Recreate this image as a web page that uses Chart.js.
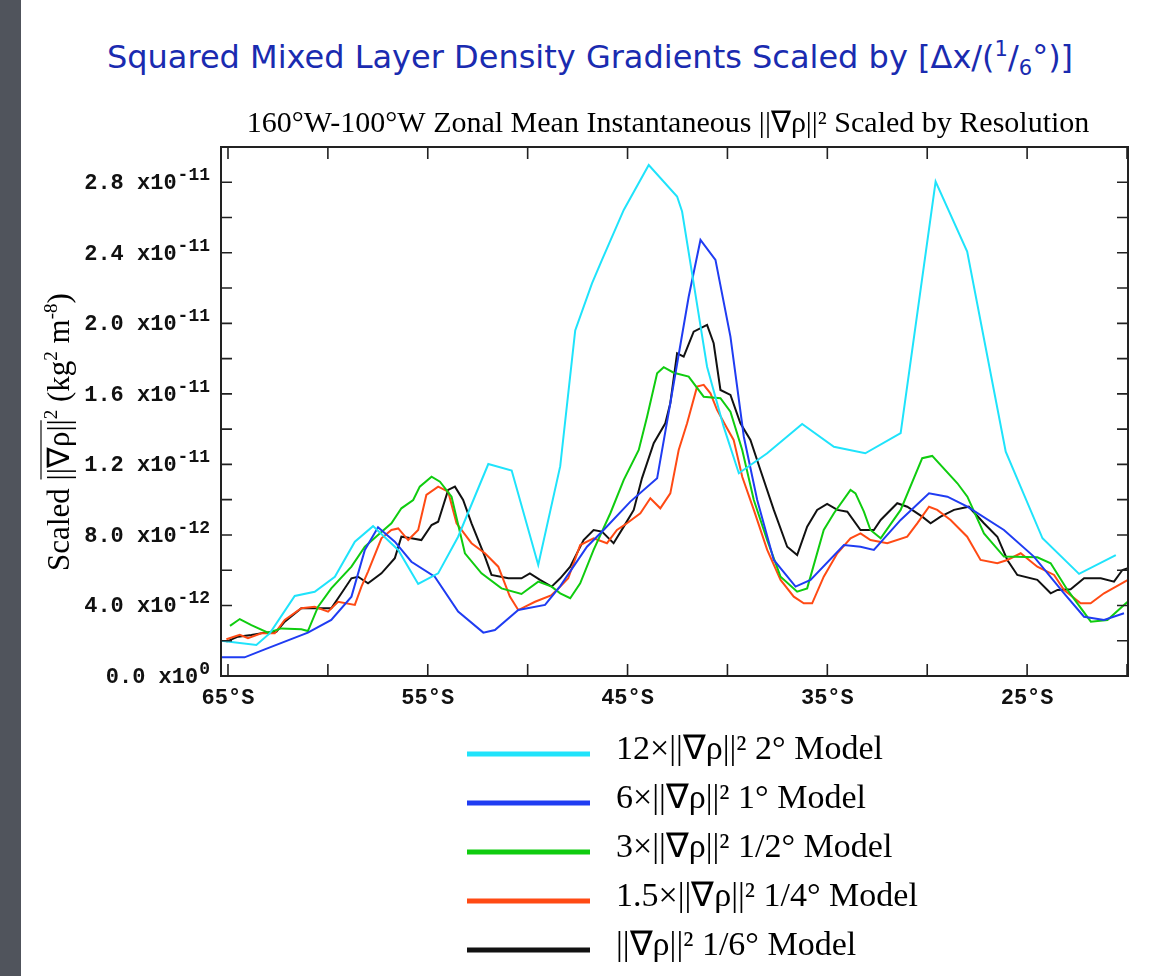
<!DOCTYPE html>
<html lang="en">
<head>
<meta charset="UTF-8">
<title>Squared Mixed Layer Density Gradients</title>
<script src="https://cdn.jsdelivr.net/npm/chart.js"></script>
<style>
  html, body { margin: 0; padding: 0; background: #fff; width: 1173px; height: 976px; overflow: hidden; }
  #strip { position: absolute; left: 0; top: 0; width: 21px; height: 976px; background: #50545c; }
  h1 { position: absolute; left: 0; top: 41px; width: 1180px; margin: 0; text-align: center;
       font: normal 32px/32px "DejaVu Sans", sans-serif; color: #1a2bb0; }
  h1 sup, h1 sub { font-size: 21px; line-height: 0; }
  #plot { position: absolute; left: 0; top: 0; }
</style>
</head>
<body>
<div id="strip"></div>
<h1>Squared Mixed Layer Density Gradients Scaled by [Δx/(<sup>1</sup>/<sub>6</sub>°)]</h1>
<canvas id="plot" width="1173" height="976"></canvas>

<script>
// latitude in degrees (negative = south), values in units of 1e-12 kg^2 m^-8

// 12x |grad rho|^2, 2 deg model
var lat2 = [-65.35, -63.58, -62.9, -61.66, -60.66, -59.65, -58.65, -57.74, -56.48, -55.48, -54.48, -53.48,
  -51.97, -50.8, -49.47, -48.37, -47.62, -46.78, -46.28, -45.19, -43.94, -42.52, -42.27, -41.69, -41.02,
  -40.19, -39.43, -38.01, -36.26, -34.67, -33.1, -31.33, -29.58, -28.0, -26.07, -24.23, -22.4, -20.56];
var val2 = [2.0, 1.76, 2.43, 4.54, 4.78, 5.63, 7.62, 8.5, 7.15, 5.22, 5.82, 7.9,
  12.02, 11.65, 6.3, 11.9, 19.6, 22.27, 23.6, 26.43, 28.98, 27.19, 26.34, 22.27, 17.54,
  14.14, 11.5, 12.63, 14.29, 13.0, 12.63, 13.77, 28.04, 24.07, 12.72, 7.81, 5.79, 6.86];

// 6x |grad rho|^2, 1 deg model
var lat1 = [-65.35, -64.17, -63.16, -61.0, -59.83, -58.82, -58.15, -57.49, -56.65, -55.82, -54.65, -53.48,
  -52.22, -51.64, -50.47, -49.13, -48.37, -47.03, -46.2, -44.86, -43.52, -42.86, -41.94, -41.35, -40.6,
  -39.85, -39.18, -38.51, -37.68, -36.59, -35.84, -34.17, -33.34, -32.67, -31.33, -29.91, -28.99, -27.99,
  -26.16, -24.66, -23.15, -22.15, -21.15, -20.15];
var val1 = [1.06, 1.06, 1.51, 2.46, 3.18, 4.5, 7.15, 8.43, 7.62, 6.48, 5.63, 3.65,
  2.46, 2.61, 3.74, 4.03, 5.1, 7.33, 8.28, 9.89, 11.21, 15.47, 21.51, 24.73, 23.6,
  19.25, 13.57, 9.98, 6.58, 5.07, 5.45, 7.43, 7.33, 7.15, 8.85, 10.36, 10.17, 9.6,
  8.28, 6.77, 4.69, 3.36, 3.18, 3.56];

// 3x |grad rho|^2, 1/2 deg model
var latHalf = [-64.9, -64.41, -63.83, -63.0, -62.33, -61.33, -61.0, -60.49, -59.83, -58.82, -58.15, -57.49,
  -56.82, -56.32, -55.73, -55.4, -54.81, -54.39, -53.81, -53.14, -52.31, -51.31, -50.31, -49.47, -48.8,
  -48.37, -47.87, -47.37, -46.7, -45.86, -45.19, -44.44, -44.02, -43.52, -43.19, -42.69, -41.94, -41.19,
  -40.35, -39.85, -39.26, -38.68, -38.01, -37.34, -36.51, -36.01, -35.18, -34.67, -33.84, -33.59, -33.17,
  -32.84, -32.33, -31.33, -30.25, -29.75, -28.49, -27.99, -27.16, -26.16, -24.49, -23.82, -22.98, -21.81,
  -20.98, -20.15, -19.95];
var valHalf = [2.84, 3.23, 2.89, 2.46, 2.7, 2.65, 2.55, 3.93, 4.97, 6.2, 7.33, 8.0,
  8.66, 9.51, 9.98, 10.74, 11.3, 11.02, 10.17, 6.96, 5.82, 4.97, 4.65, 5.35, 5.07,
  4.69, 4.41, 5.26, 7.15, 9.23, 11.12, 12.82, 14.71, 17.17, 17.51, 17.2, 16.98, 15.84,
  15.75, 14.99, 12.82, 9.98, 7.71, 5.63, 4.78, 4.97, 8.28, 9.23, 10.55, 10.36, 9.32,
  8.28, 7.81, 9.42, 12.35, 12.48, 10.93, 10.17, 8.09, 6.77, 6.73, 6.39, 4.88, 3.08,
  3.18, 4.03, 4.22];

// 1.5x |grad rho|^2, 1/4 deg model
var latQuarter = [-65.08, -64.41, -64.0, -63.33, -62.66, -62.16, -61.33, -60.66, -59.99, -59.49, -58.65, -58.32,
  -57.99, -57.32, -56.82, -56.48, -55.98, -55.48, -55.07, -54.48, -53.98, -53.56, -52.81, -52.14, -51.47,
  -50.89, -50.47, -49.63, -48.8, -48.37, -47.97, -47.37, -46.7, -46.03, -45.53, -45.03, -44.36, -43.86,
  -43.36, -42.86, -42.44, -42.02, -41.52, -41.19, -40.85, -40.52, -40.02, -39.69, -39.26, -38.68, -38.01,
  -37.34, -36.68, -36.18, -35.76, -35.18, -34.5, -33.84, -33.34, -32.84, -32.0, -31.0, -30.5, -29.91,
  -29.5, -28.83, -28.0, -27.33, -26.49, -25.99, -25.32, -24.49, -23.65, -23.15, -22.32, -21.82, -21.15,
  -19.95];
var valQuarter = [2.08, 2.33, 2.14, 2.42, 2.42, 3.18, 3.84, 3.93, 3.65, 4.21, 4.03, 5.07,
  5.92, 7.81, 8.28, 8.37, 7.71, 8.28, 10.27, 10.74, 10.45, 8.66, 7.53, 6.96, 6.2,
  4.5, 3.74, 4.21, 4.59, 5.07, 5.54, 7.43, 7.81, 7.53, 8.28, 8.66, 9.23, 10.08,
  9.51, 10.36, 12.82, 14.33, 16.41, 16.51, 16.03, 15.09, 14.05, 13.39, 11.3, 9.42, 7.15,
  5.45, 4.5, 4.12, 4.12, 5.63, 6.96, 7.81, 8.09, 7.71, 7.53, 7.9, 8.66, 9.6,
  9.42, 8.85, 7.9, 6.58, 6.39, 6.58, 6.96, 6.2, 5.73, 4.88, 4.12, 4.12, 4.69,
  5.45];

// |grad rho|^2, 1/6 deg model
var latSixth = [-65.08, -64.5, -63.83, -63.16, -62.58, -62.16, -61.33, -60.66, -59.83, -59.32, -58.82, -58.49,
  -57.99, -57.32, -56.65, -56.32, -55.82, -55.32, -54.81, -54.48, -53.98, -53.64, -53.23, -52.81, -52.14,
  -51.81, -50.97, -50.31, -49.89, -49.38, -48.8, -48.37, -47.87, -47.2, -46.7, -46.28, -45.7, -45.19,
  -44.69, -44.28, -43.69, -43.11, -42.86, -42.52, -42.19, -41.69, -41.02, -40.69, -40.35, -39.85, -39.35,
  -38.85, -38.35, -37.68, -37.01, -36.51, -36.01, -35.51, -35.01, -34.5, -34.0, -33.34, -32.67, -32.33,
  -31.5, -31.0, -30.25, -29.83, -29.33, -28.66, -27.92, -27.16, -26.49, -25.99, -25.49, -24.49, -23.82,
  -23.48, -22.82, -22.15, -21.31, -20.65, -20.23, -19.95];
var valSixth = [1.95, 2.23, 2.33, 2.46, 2.51, 3.08, 3.84, 3.84, 3.84, 4.69, 5.54, 5.63,
  5.26, 5.82, 6.68, 7.9, 7.81, 7.71, 8.56, 8.75, 10.55, 10.74, 9.98, 8.66, 6.77,
  5.73, 5.54, 5.54, 5.82, 5.45, 5.07, 5.54, 6.2, 7.71, 8.28, 8.19, 7.53, 8.47,
  9.42, 11.21, 13.2, 14.33, 15.47, 18.3, 18.11, 19.53, 19.91, 18.87, 16.22, 15.94, 14.33,
  13.39, 11.68, 9.42, 7.33, 6.86, 8.47, 9.42, 9.76, 9.42, 9.32, 8.28, 8.28, 8.85,
  9.8, 9.6, 9.04, 8.66, 9.04, 9.42, 9.6, 8.66, 7.9, 6.58, 5.73, 5.45, 4.69,
  4.88, 4.92, 5.54, 5.54, 5.35, 6.01, 6.11];

var seriesNames = ["12×||∇ρ||² 2° Model", "6×||∇ρ||² 1° Model", "3×||∇ρ||² 1/2° Model",
  "1.5×||∇ρ||² 1/4° Model", "||∇ρ||² 1/6° Model"];
var seriesColors = ["#1fe3fb", "#1f3cf2", "#0fcc0f", "#ff4a14", "#111111"];

// axis ticks
var xTickValues = [-65, -60, -55, -50, -45, -40, -35, -30, -25, -20];
var xLabelValues = [-65, -55, -45, -35, -25];
var xTickLabels = ["65°S", "55°S", "45°S", "35°S", "25°S"];
var yTickValues = [0, 2, 4, 6, 8, 10, 12, 14, 16, 18, 20, 22, 24, 26, 28, 30];
var yLabelValues = [0, 4, 8, 12, 16, 20, 24, 28];
var yLabelMantissa = ["0.0 x10", "4.0 x10", "8.0 x10", "1.2 x10", "1.6 x10", "2.0 x10", "2.4 x10", "2.8 x10"];
var yLabelExponent = ["0", "-12", "-12", "-11", "-11", "-11", "-11", "-11"];

function toPoints(lat, val) {
  return lat.map(function(x, i) { return { x: x, y: val[i] }; });
}

var allLat = [lat2, lat1, latHalf, latQuarter, latSixth];
var allVal = [val2, val1, valHalf, valQuarter, valSixth];

var datasets = seriesNames.map(function(name, i) {
  return {
    label: name,
    data: toPoints(allLat[i], allVal[i]),
    borderColor: seriesColors[i],
    backgroundColor: seriesColors[i],
    borderWidth: 2,
    pointRadius: 0,
    tension: 0,
    fill: false
  };
});

var tickFont = 'bold 22px "Liberation Mono", "Courier New", monospace';
var expFont = 'bold 18px "Liberation Mono", "Courier New", monospace';
var serif = '"Liberation Serif", "Times New Roman", serif';

// frame, inward ticks, labels, titles and legend
var decorPlugin = {
  id: "decor",
  afterDraw: function(chart) {
    var ctx = chart.ctx;
    var a = chart.chartArea;
    var xs = chart.scales.x, ys = chart.scales.y;
    ctx.save();

    // box
    ctx.strokeStyle = "#222";
    ctx.lineWidth = 2;
    ctx.strokeRect(a.left, a.top, a.right - a.left, a.bottom - a.top);

    // ticks on all four sides, pointing inward
    ctx.lineWidth = 1.6;
    ctx.beginPath();
    xTickValues.forEach(function(v) {
      var px = xs.getPixelForValue(v);
      ctx.moveTo(px, a.bottom); ctx.lineTo(px, a.bottom - 12);
      ctx.moveTo(px, a.top); ctx.lineTo(px, a.top + 12);
    });
    yTickValues.forEach(function(v) {
      var py = ys.getPixelForValue(v);
      ctx.moveTo(a.left, py); ctx.lineTo(a.left + 11, py);
      ctx.moveTo(a.right, py); ctx.lineTo(a.right - 11, py);
    });
    ctx.stroke();

    // x tick labels
    ctx.fillStyle = "#111";
    ctx.font = tickFont;
    ctx.textAlign = "center";
    ctx.textBaseline = "middle";
    xLabelValues.forEach(function(v, i) {
      ctx.fillText(xTickLabels[i], xs.getPixelForValue(v), 698);
    });

    // y tick labels with raised exponent
    var rightEdge = 210;
    yLabelValues.forEach(function(v, i) {
      var py = ys.getPixelForValue(v);
      ctx.textAlign = "right";
      ctx.textBaseline = "alphabetic";
      ctx.font = expFont;
      var ew = ctx.measureText(yLabelExponent[i]).width;
      ctx.fillText(yLabelExponent[i], rightEdge, py - 2);
      ctx.font = tickFont;
      ctx.fillText(yLabelMantissa[i], rightEdge - ew - 1, py + 7);
    });

    // plot subtitle
    ctx.font = "30px " + serif;
    ctx.textAlign = "center";
    ctx.textBaseline = "alphabetic";
    ctx.fillStyle = "#000";
    ctx.fillText("160°W-100°W Zonal Mean Instantaneous ||∇ρ||² Scaled by Resolution", 668, 132);

    // y axis title, rotated, with overline and superscripts
    var big = "31px " + serif, small = "19px " + serif;
    var parts = [
      ["Scaled ", big, 0, false], ["||∇ρ||", big, 0, true], ["2", small, 12, false],
      [" (kg", big, 0, false], ["2", small, 12, false], [" m", big, 0, false],
      ["-8", small, 12, false], [")", big, 0, false]
    ];
    var total = 0;
    parts.forEach(function(p) { ctx.font = p[1]; p.push(ctx.measureText(p[0]).width); total += p[4]; });
    ctx.translate(69, 432);
    ctx.rotate(-Math.PI / 2);
    ctx.textAlign = "left";
    var cx = -total / 2;
    parts.forEach(function(p) {
      ctx.font = p[1];
      ctx.fillText(p[0], cx, -p[2]);
      if (p[3]) {
        ctx.beginPath();
        ctx.lineWidth = 1.3;
        ctx.moveTo(cx + 1, -28);
        ctx.lineTo(cx + p[4] - 1, -28);
        ctx.stroke();
      }
      cx += p[4];
    });
    ctx.setTransform(1, 0, 0, 1, 0, 0);

    // legend
    chart.data.datasets.forEach(function(ds, i) {
      var ly = 754 + i * 49;
      ctx.strokeStyle = ds.borderColor;
      ctx.lineWidth = 5;
      ctx.beginPath();
      ctx.moveTo(467, ly);
      ctx.lineTo(590, ly);
      ctx.stroke();
      ctx.fillStyle = "#000";
      ctx.font = "34px " + serif;
      ctx.textAlign = "left";
      ctx.fillText(ds.label, 616, ly + 5);
    });

    ctx.restore();
  }
};

new Chart(document.getElementById("plot"), {
  type: "line",
  data: { datasets: datasets },
  options: {
    responsive: false,
    animation: false,
    devicePixelRatio: 1,
    layout: { padding: { left: 221, right: 45, top: 147, bottom: 300 } },
    scales: {
      x: { type: "linear", min: -65.35, max: -19.95, display: false },
      y: { type: "linear", min: 0, max: 30, display: false }
    },
    plugins: {
      legend: { display: false },
      tooltip: { enabled: false },
      title: { display: false }
    }
  },
  plugins: [decorPlugin]
});
</script>
</body>
</html>
